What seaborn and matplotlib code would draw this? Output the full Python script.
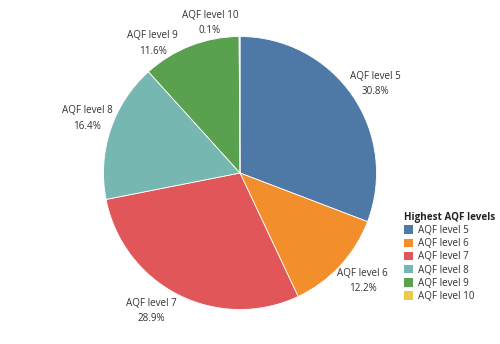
import matplotlib
matplotlib.use("Agg")
import matplotlib.pyplot as plt
import seaborn as sns
import numpy as np
from matplotlib.patches import Patch

sns.set_theme(style="white")
plt.rcParams['font.family'] = ['Open Sans', 'DejaVu Sans']

categories = ["AQF level 5", "AQF level 6", "AQF level 7", "AQF level 8", "AQF level 9", "AQF level 10"]
values = [30.8, 12.2, 28.9, 16.4, 11.6, 0.1]
colors = ["#4e79a7", "#f28e2b", "#e15759", "#76b7b2", "#59a14f", "#edc948"]

# label centres, in pie-radius units (layout only)
label_xy = [(0.99, 0.65), (0.90, -0.79), (-0.65, -1.01), (-1.12, 0.40), (-0.64, 0.95), (-0.22, 1.10)]

fig = plt.figure(figsize=(5.0, 3.44), dpi=100)
ax = fig.add_axes([0.2, 0.1, 0.56, 0.8])
wedges, _ = ax.pie(values, colors=colors, startangle=90, counterclock=False, radius=1.0,
                   wedgeprops=dict(linewidth=0.6, edgecolor="white"))
for c, v, (x, y) in zip(categories, values, label_xy):
    ax.text(x, y, f"{c}\n{v}%", ha="center", va="center", multialignment="center",
            fontsize=7.1, color="#333333", linespacing=1.55)
ax.set_aspect("equal")
ax.set_xlim(-1.0, 1.0)
ax.set_ylim(-1.0, 1.0)

W, H = 500, 344
cx, cy, rp = 240, 173, 136.5
ax.set_position([(cx - rp) / W, (H - cy - rp) / H, 2 * rp / W, 2 * rp / H])

handles = [Patch(facecolor=c, edgecolor="none") for c in colors]
leg = fig.legend(handles, categories, title="Highest AQF levels", loc="upper left",
                 bbox_to_anchor=(397 / W, 1 - 205 / H), frameon=False, fontsize=7.1,
                 title_fontsize=7.1, handlelength=0.95, handleheight=0.95, handletextpad=0.45,
                 labelspacing=0.22, borderpad=0.2)
leg.get_title().set_fontweight("bold")
leg.get_title().set_color("#222222")
leg._legend_box.align = "left"
for t in leg.get_texts():
    t.set_color("#333333")

fig.savefig("out.png", dpi=100)
